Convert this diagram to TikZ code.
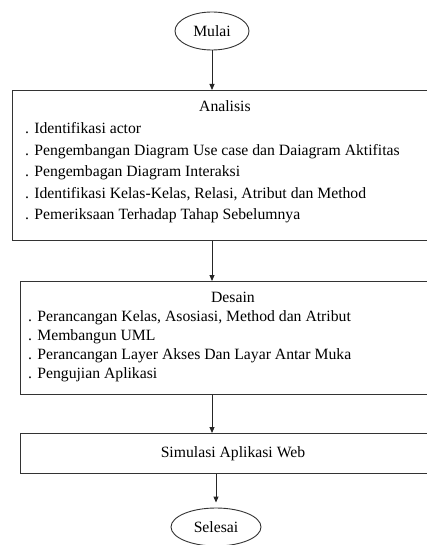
\documentclass[tikz,border=0pt]{standalone}
\usepackage{fontspec}
\setmainfont{Liberation Serif}
\usetikzlibrary{shapes.geometric,positioning,arrows.meta}

\begin{document}
\begin{tikzpicture}[x=1pt,y=1pt,>={Triangle[length=6pt,width=5pt]},
		font=\fontsize{15.7}{19}\selectfont,
		terminal/.style={draw=black!80,line width=.9pt,ellipse,inner sep=0pt},
		proses/.style={draw=black!80,line width=.9pt,rectangle,anchor=north west,minimum width=425pt},
		garis/.style={draw=black!85,line width=.9pt,->}]
		\useasboundingbox (0,0) rectangle (426,-545);
		\node[terminal,minimum width=74pt,minimum height=38pt] (mulai) at (212,-31) {Mulai};
		\node[proses,minimum height=150pt] (analisis) at (12,-90) {};
		\node[proses,minimum height=113pt] (desain) at (20,-281) {};
		\node[proses,minimum height=40pt] (simulasi) at (20,-433) {};
		\node[terminal,minimum width=90pt,minimum height=38pt] (selesai) at (216,-527) {Selesai};
		% isi kotak
		\node[anchor=base] (judulanalisis) at (analisis.north |- 0,-112) {Analisis};
		\node[anchor=base west,align=left,inner sep=0pt,font=\fontsize{15.7}{21.5}\selectfont] (isianalisis) at (25,-219.5) {
			. Identifikasi actor\\
			. Pengembangan Diagram Use case dan Daiagram Aktifitas\\
			. Pengembagan Diagram Interaksi\\
			. Identifikasi Kelas-Kelas, Relasi, Atribut dan Method\\
			. Pemeriksaan Terhadap Tahap Sebelumnya};
		\node[anchor=base] (juduldesain) at (desain.north |- 0,-302) {Desain};
		\node[anchor=base west,align=left,inner sep=0pt] (isidesain) at (28,-378) {
			. Perancangan Kelas, Asosiasi, Method dan Atribut\\
			. Membangun UML\\
			. Perancangan Layer Akses Dan Layar Antar Muka\\
			. Pengujian Aplikasi};
		\node (judulsimulasi) at (simulasi.center) {Simulasi Aplikasi Web};
		% panah
		\draw[garis] (mulai) -- (mulai |- analisis.north);
		\foreach \dari/\ke in {analisis/desain,desain/simulasi}{
			\draw[garis] (\dari.south -| mulai) -- (\ke.north -| mulai);
		}
		\draw[garis,shorten >=5pt] (simulasi.south -| selesai) -- (selesai);
	\end{tikzpicture}
\end{document}
